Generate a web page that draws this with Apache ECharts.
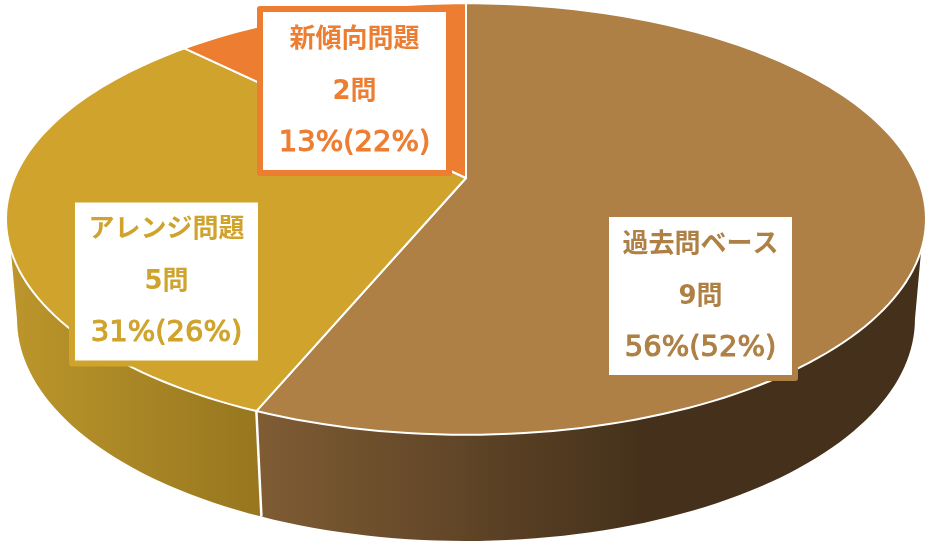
<!DOCTYPE html>
<html>
<head>
<meta charset="utf-8">
<style>html,body{margin:0;padding:0;background:#fff}#c{width:930px;height:546px}</style>
<script src="https://cdn.jsdelivr.net/npm/echarts@6/dist/echarts.min.js"></script>
</head>
<body>
<div id="c"></div>
<script>
// ---- data ----
var categories = ['過去問ベース', 'アレンジ問題', '新傾向問題'];
var counts = [9, 5, 2];
var shareLabels = ['56%', '31%', '13%'];
var compareLabels = ['52%', '26%', '22%'];
var countUnit = '問';

// ---- styling and layout ----
var colors = ['#AE8046', '#CFA32C', '#ED7D31'];
var total = counts.reduce(function (a, b) { return a + b; }, 0);
var P = { cx: 466, cy: 178, D: 451.6, A: 208, c: 0.19, floorY: 277, floorScaleX: 0.976, floorScaleY: 1.028 };
var deg = Math.PI / 180;
var boxW = 183, boxH = 158;
var boxLeftTop = [[609, 217], [75, 202.5], [263, 12]];
var sideGrad = [
  { x: 258, x2: 640, from: '#7F5C34', to: '#45311B' },
  { x: 10, x2: 262, from: '#BC962B', to: '#96761F' }
];

function project(a, floor) {
  var u = Math.sin(a * deg), v = Math.cos(a * deg), w = 1 + P.c * v;
  var dx = P.D * u / w, dy = -P.A * v / w;
  return floor ? [P.cx + dx * P.floorScaleX, P.floorY + dy * P.floorScaleY] : [P.cx + dx, P.cy + dy];
}
function startAngle(i) {
  var s = 0;
  for (var k = 0; k < i; k++) s += counts[k];
  return s / total * 360;
}
function arc(a0, a1, floor) {
  var pts = [], n = Math.max(2, Math.ceil(Math.abs(a1 - a0) / 1.5));
  for (var k = 0; k <= n; k++) pts.push(project(a0 + (a1 - a0) * k / n, floor));
  return pts;
}
var dataIdx = counts.map(function (v, i) { return [i, v]; });

var chart = echarts.init(document.getElementById('c'), null, { renderer: 'canvas' });
chart.setOption({
  animation: false,
  backgroundColor: '#ffffff',
  series: [
    { // visible rim of the slices
      type: 'custom', coordinateSystem: 'none', z: 1, silent: true, data: dataIdx,
      renderItem: function (params, api) {
        var i = api.value(0), a0 = startAngle(i), a1 = a0 + api.value(1) / total * 360;
        var t0 = Math.max(a0, 109), t1 = Math.min(a1, 251);
        var b0 = Math.max(a0, 101), b1 = Math.min(a1, 259);
        if (t1 <= t0) return { type: 'group', children: [] };
        var pts = arc(t0, t1, false).concat(arc(b1, b0, true));
        var g = sideGrad[i];
        return {
          type: 'polygon', shape: { points: pts },
          style: {
            fill: { type: 'linear', x: g.x, y: 0, x2: g.x2, y2: 0, global: true,
              colorStops: [{ offset: 0, color: g.from }, { offset: 1, color: g.to }] },
            stroke: null
          }
        };
      }
    },
    { // seams on the rim
      type: 'custom', coordinateSystem: 'none', z: 2, silent: true, data: dataIdx,
      renderItem: function (params, api) {
        var a = startAngle(api.value(0));
        if (a < 109 || a > 251) return { type: 'group', children: [] };
        var p = project(a, false), q = project(a, true);
        return { type: 'line', shape: { x1: p[0], y1: p[1], x2: q[0], y2: q[1] },
          style: { stroke: '#fff', lineWidth: 2.5 } };
      }
    },
    { // top face
      type: 'custom', coordinateSystem: 'none', z: 3, silent: true, data: dataIdx,
      renderItem: function (params, api) {
        var i = api.value(0), a0 = startAngle(i), a1 = a0 + api.value(1) / total * 360;
        var pts = [[P.cx, P.cy]].concat(arc(a0, a1, false));
        return { type: 'polygon', shape: { points: pts },
          style: { fill: colors[i], stroke: '#fff', lineWidth: 2, lineJoin: 'round' } };
      }
    },
    { // label boxes
      type: 'custom', coordinateSystem: 'none', z: 4, silent: true, data: dataIdx,
      renderItem: function (params, api) {
        var i = api.value(0), lt = boxLeftTop[i], cx = lt[0] + boxW / 2, cy = lt[1] + boxH / 2;
        var mk = function (txt, y, latin) {
          return { type: 'text', style: {
            text: txt, x: cx, y: y, align: 'center', verticalAlign: 'middle', fill: colors[i],
            font: (latin ? '' : 'bold ') + (latin ? '29px' : '26px') + ' "DejaVu Sans","Noto Sans CJK JP"',
            stroke: latin ? colors[i] : null, lineWidth: latin ? 1.1 : 0
          } };
        };
        return { type: 'group', children: [
          { type: 'rect', shape: { x: lt[0] - 3, y: lt[1] - 3, width: boxW + 6, height: boxH + 6 },
            style: { fill: '#fff', stroke: colors[i], lineWidth: 6, lineJoin: 'round' } },
          mk(categories[i], cy - 51),
          mk(api.value(1) + countUnit, cy + 1),
          mk(shareLabels[i] + '(' + compareLabels[i] + ')', cy + 52, true)
        ] };
      }
    }
  ]
});
</script>
</body>
</html>
